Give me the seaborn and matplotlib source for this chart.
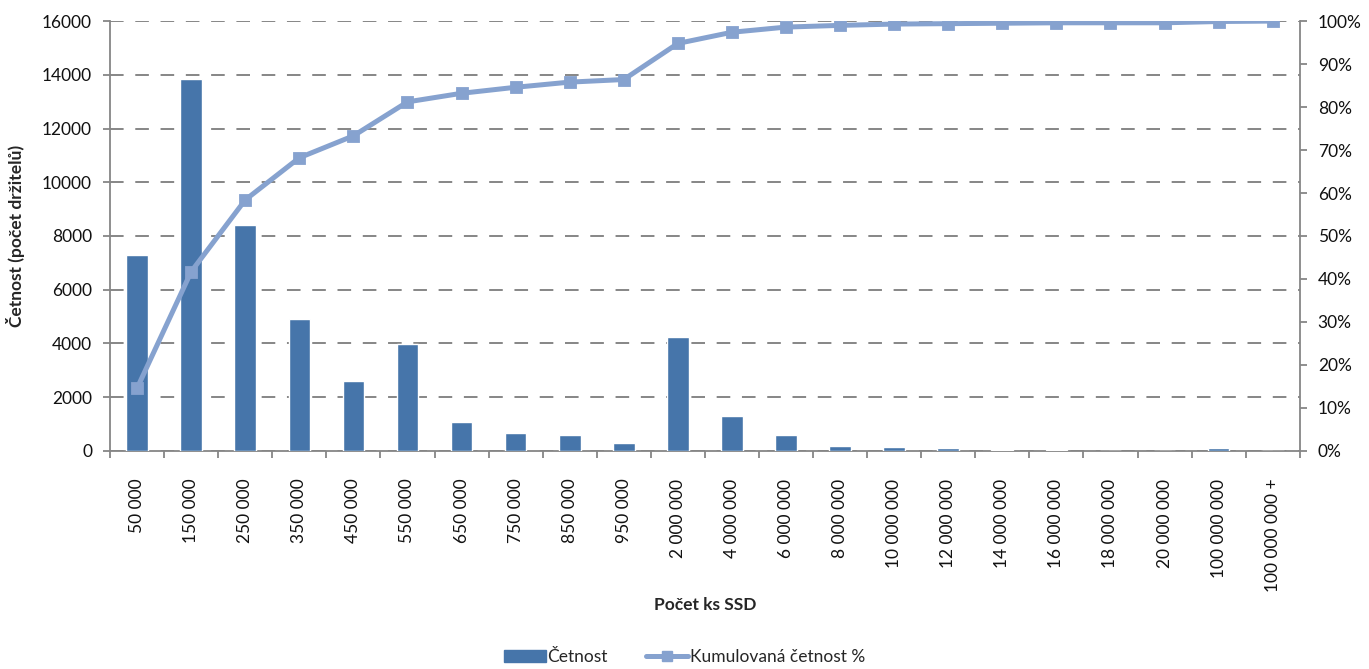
import numpy as np
import pandas as pd
import seaborn as sns
import matplotlib.pyplot as plt
from matplotlib.patches import Patch
from matplotlib.lines import Line2D
from matplotlib.ticker import FixedLocator, PercentFormatter

categories = ["50 000", "150 000", "250 000", "350 000", "450 000", "550 000",
              "650 000", "750 000", "850 000", "950 000", "2 000 000", "4 000 000",
              "6 000 000", "8 000 000", "10 000 000", "12 000 000", "14 000 000",
              "16 000 000", "18 000 000", "20 000 000", "100 000 000", "100 000 000 +"]
cetnost = [7300, 13850, 8400, 4900, 2600, 3980, 1080, 680, 600, 300, 4230, 1300,
           600, 180, 140, 90, 20, 20, 0, 0, 110, 0]
kumulace = [14.6, 41.7, 58.4, 68.2, 73.3, 81.2, 83.2, 84.6, 85.8, 86.4, 94.8, 97.4,
            98.6, 99.0, 99.3, 99.4, 99.5, 99.6, 99.6, 99.6, 99.9, 100.0]

df = pd.DataFrame({"kat": categories, "cetnost": cetnost, "kum": kumulace})

sns.set_theme(style="white")
plt.rcParams["font.family"] = ["Lato", "DejaVu Sans"]

bar_col = "#4675aa"
line_col = "#86a2cf"
axis_col = "#868686"

fig = plt.figure(figsize=(13.69, 6.69), dpi=100)
ax = fig.add_axes([0.0804, 0.326, 0.869, 0.6425])

sns.barplot(data=df, x="kat", y="cetnost", color=bar_col, width=0.4,
            saturation=1, ax=ax, zorder=3)
ax.set_ylim(0, 16000)
ax.set_yticks(np.arange(0, 16001, 2000))
ax.set_xlim(-0.5, len(categories) - 0.5)
ax.yaxis.grid(True, color=axis_col, linestyle=(0, (7, 6)), linewidth=1.4, zorder=0)
ax.xaxis.grid(False)
ax.set_axisbelow(True)

ax2 = ax.twinx()
sns.pointplot(data=df, x="kat", y="kum", color=line_col, markers="s",
              linestyles="-", ax=ax2, native_scale=False)
for ln in ax2.lines:
    ln.set_linewidth(3.6)
    ln.set_markersize(7)
ax2.set_ylim(0, 100)
ax2.set_yticks(np.arange(0, 101, 10))
ax2.yaxis.set_major_formatter(PercentFormatter(decimals=0))
ax2.set_xlim(-0.5, len(categories) - 0.5)
ax2.set_ylabel("")
ax2.set_xlabel("")

for a in (ax, ax2):
    for s in a.spines.values():
        s.set_color(axis_col)
        s.set_linewidth(1.3)
    a.spines["top"].set_visible(False)
ax.spines["right"].set_visible(False)
ax2.spines["left"].set_visible(False)
ax2.spines["bottom"].set_visible(False)

ax.tick_params(axis="y", left=True, length=5, width=1.3, color=axis_col,
               labelsize=12.5, pad=8, labelcolor="#111111")
ax2.tick_params(axis="y", right=True, length=5, width=1.3, color=axis_col,
                labelsize=12.5, pad=8, labelcolor="#111111")
ax.tick_params(axis="x", which="major", length=0, labelsize=12.5, pad=20,
               labelrotation=90, labelcolor="#111111")
ax.xaxis.set_minor_locator(FixedLocator(np.arange(-0.5, len(categories), 1)))
ax.tick_params(axis="x", which="minor", bottom=True, length=5, width=1.3, color=axis_col)
for lbl in ax.get_xticklabels():
    lbl.set_verticalalignment("top")

ax.set_ylabel("Četnost (počet držitelů)", fontsize=12.5, fontweight="bold", labelpad=12)
ax.set_xlabel("")
fig.text(0.515, (669 - 605) / 669, "Počet ks SSD", ha="center", va="center",
         fontsize=12.5, fontweight="bold")

handles = [Patch(facecolor=bar_col, edgecolor=bar_col),
           Line2D([0], [0], color=line_col, lw=3.6, marker="s", markersize=7)]
fig.legend(handles, ["Četnost", "Kumulovaná četnost %"], loc="center",
           bbox_to_anchor=(0.5, (669 - 657) / 669), ncol=2, frameon=False, fontsize=12.5,
           handlelength=2.4, handletextpad=0.1, columnspacing=2.2)

fig.savefig("out.png", dpi=100)
